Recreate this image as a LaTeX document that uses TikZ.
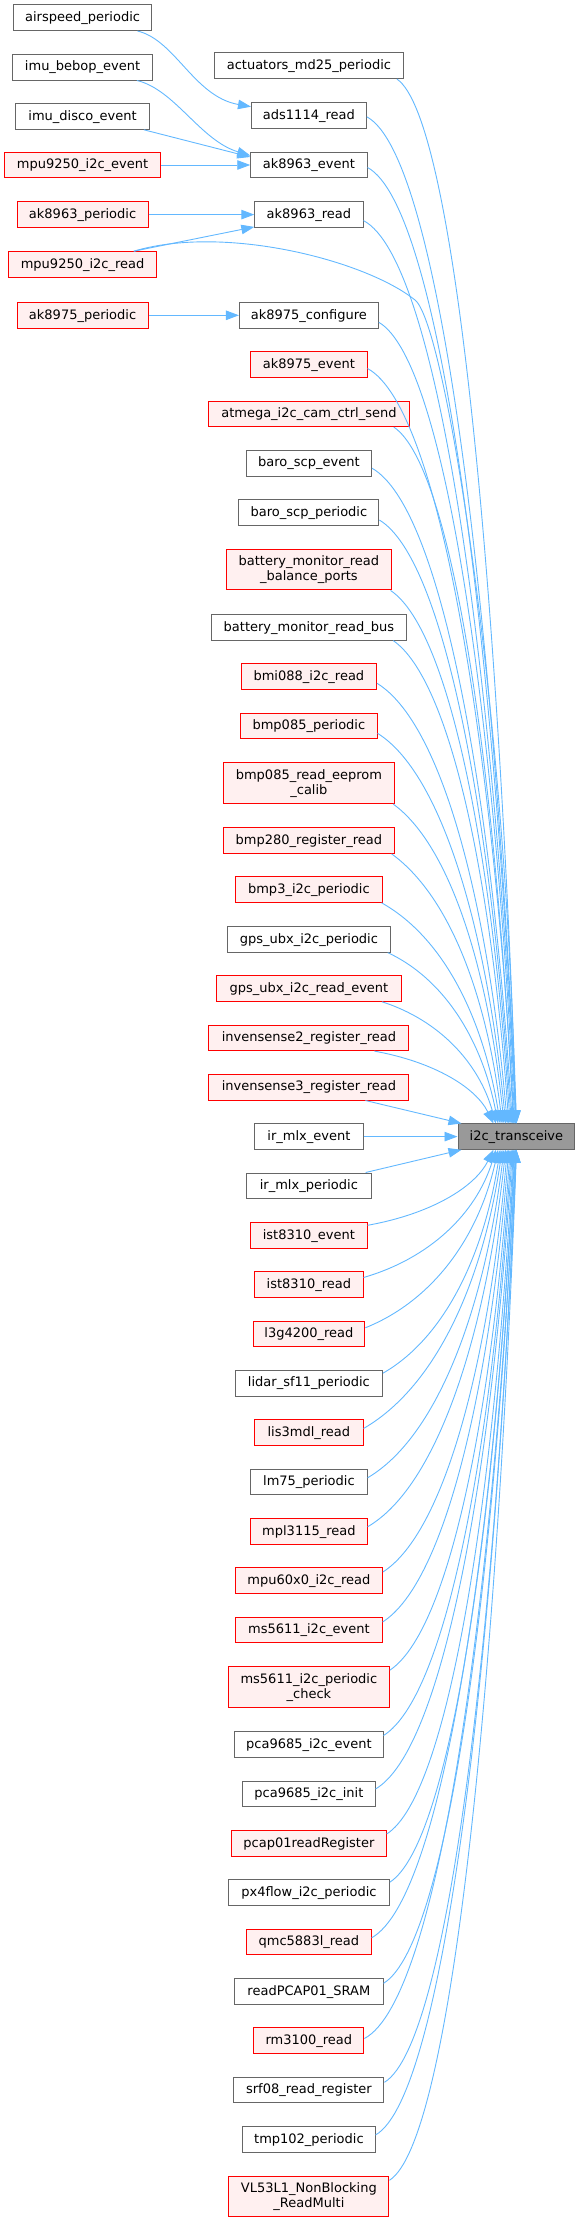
\documentclass[tikz,border=0pt]{standalone}
\usepackage{fontspec}
\setmainfont{DejaVu Sans}
\usetikzlibrary{arrows.meta,calc}
\definecolor{edgeblue}{HTML}{63B8FF}
\definecolor{boxgray}{HTML}{666666}
\definecolor{redfill}{HTML}{FFF0F0}
\definecolor{mainfill}{HTML}{999999}
\tikzset{
  nodebox/.style={draw, line width=1pt, inner sep=0pt, minimum height=25.6pt, font=\fontsize{13}{15}\selectfont, text=black},
  oneline/.style={text height=10pt, text depth=2.6pt},
  twoline/.style={align=center, minimum height=40.5pt},
  gbox/.style={nodebox, draw=boxgray, fill=white},
  rbox/.style={nodebox, draw=red, fill=redfill},
  mbox/.style={nodebox, draw=boxgray, fill=mainfill},
  calledge/.style={draw=edgeblue, line width=0.9pt, -{Triangle[length=13pt,width=9.5pt]}}
}
\newcommand\upedge[2]{%
  \draw[calledge] let \p1=(#1), \p2=([xshift=#2pt]i2c.north west), \n1={\x2-\x1}, \n2={\y1-\y2} in
  (\p1) .. controls ($(\p1)+({0.5*\n1+0pt},{-min(0.15*\n2,40pt)})$) and ($(\p2)+({-0.15*\n1+0pt},{0.5*\n2+0pt})$) .. (\p2);}
\newcommand\downedge[2]{%
  \draw[calledge] let \p1=(#1), \p2=([xshift=#2pt]i2c.south west), \n1={\x2-\x1}, \n2={\y2-\y1} in
  (\p1) .. controls ($(\p1)+({0.5*\n1+0pt},{min(0.15*\n2,40pt)})$) and ($(\p2)+({-0.15*\n1+0pt},{-0.5*\n2+0pt})$) .. (\p2);}
\begin{document}
\begin{tikzpicture}[x=1pt,y=-1pt]
\useasboundingbox (0,0) rectangle (575,2222);
% left column
\node[gbox,oneline,minimum width=138.7pt] (asp) at (82.6,17.7) {airspeed\_periodic};
\node[gbox,oneline,minimum width=139.6pt] (bebop) at (82.6,67.2) {imu\_bebop\_event};
\node[gbox,oneline,minimum width=133.6pt] (disco) at (82.6,116.5) {imu\_disco\_event};
\node[rbox,oneline,minimum width=155.6pt] (mev) at (82.6,165) {mpu9250\_i2c\_event};
\node[rbox,oneline,minimum width=131pt] (ak63p) at (82.6,214.6) {ak8963\_periodic};
\node[rbox,oneline,minimum width=147.4pt] (mrd) at (82.6,264.5) {mpu9250\_i2c\_read};
\node[rbox,oneline,minimum width=131pt] (ak75p) at (82.6,315.3) {ak8975\_periodic};
% middle column
\node[gbox,oneline,minimum width=188.9pt] (act) at (308.9,65.7) {actuators\_md25\_periodic};
\node[gbox,oneline,minimum width=114.8pt] (ads) at (308.9,115.3) {ads1114\_read};
\node[gbox,oneline,minimum width=116.3pt] (akev) at (308.9,165) {ak8963\_event};
\node[gbox,oneline,minimum width=108.2pt] (akrd) at (308.9,214.6) {ak8963\_read};
\node[gbox,oneline,minimum width=138.9pt] (akcfg) at (308.9,315.3) {ak8975\_configure};
\node[rbox,oneline,minimum width=116.3pt] (ak75ev) at (308.9,364.5) {ak8975\_event};
\node[rbox,oneline,minimum width=200.8pt] (atm) at (308.9,413.8) {atmega\_i2c\_cam\_ctrl\_send};
\node[gbox,oneline,minimum width=125.2pt] (bse) at (308.9,463.2) {baro\_scp\_event};
\node[gbox,oneline,minimum width=140pt] (bsp) at (308.9,512.5) {baro\_scp\_periodic};
\node[rbox,twoline,minimum width=164.3pt] (bbal) at (308.9,569.7) {battery\_monitor\_read\\\_balance\_ports};
\node[gbox,oneline,minimum width=195.7pt] (bbus) at (308.9,627.3) {battery\_monitor\_read\_bus};
\node[rbox,oneline,minimum width=135.3pt] (bmi) at (308.9,676.3) {bmi088\_i2c\_read};
\node[rbox,oneline,minimum width=136.3pt] (b085p) at (308.9,725.8) {bmp085\_periodic};
\node[rbox,twoline,minimum width=170.3pt] (b085e) at (308.9,783.2) {bmp085\_read\_eeprom\\\_calib};
\node[rbox,oneline,minimum width=170.3pt] (b280) at (308.9,840.5) {bmp280\_register\_read};
\node[rbox,oneline,minimum width=146.3pt] (bmp3) at (308.9,889.5) {bmp3\_i2c\_periodic};
\node[gbox,oneline,minimum width=163.4pt] (gpsp) at (308.9,939.3) {gps\_ubx\_i2c\_periodic};
\node[rbox,oneline,minimum width=184.3pt] (gpsr) at (308.9,988.5) {gps\_ubx\_i2c\_read\_event};
\node[rbox,oneline,minimum width=200pt] (inv2) at (308.9,1037.8) {invensense2\_register\_read};
\node[rbox,oneline,minimum width=200pt] (inv3) at (308.9,1087.2) {invensense3\_register\_read};
\node[gbox,oneline,minimum width=108.2pt] (irme) at (308.9,1136.6) {ir\_mlx\_event};
\node[gbox,oneline,minimum width=124.4pt] (irmp) at (308.9,1185.8) {ir\_mlx\_periodic};
\node[rbox,oneline,minimum width=116.3pt] (iste) at (308.9,1235.3) {ist8310\_event};
\node[rbox,oneline,minimum width=108.2pt] (istr) at (308.9,1284.5) {ist8310\_read};
\node[rbox,oneline,minimum width=111.8pt] (l3g) at (308.9,1333.8) {l3g4200\_read};
\node[gbox,oneline,minimum width=147pt] (lidar) at (308.9,1383.2) {lidar\_sf11\_periodic};
\node[rbox,oneline,minimum width=108.2pt] (lis) at (308.9,1432.5) {lis3mdl\_read};
\node[gbox,oneline,minimum width=116.3pt] (lm75) at (308.9,1481.8) {lm75\_periodic};
\node[rbox,oneline,minimum width=116.3pt] (mpl) at (308.9,1531.3) {mpl3115\_read};
\node[rbox,oneline,minimum width=147pt] (m60) at (308.9,1580.5) {mpu60x0\_i2c\_read};
\node[rbox,oneline,minimum width=146.3pt] (msev) at (308.9,1630) {ms5611\_i2c\_event};
\node[rbox,twoline,minimum width=160.8pt] (mspc) at (308.9,1687.2) {ms5611\_i2c\_periodic\\\_check};
\node[gbox,oneline,minimum width=148.2pt] (pcaev) at (308.9,1744.5) {pca9685\_i2c\_event};
\node[gbox,oneline,minimum width=132.2pt] (pcain) at (308.9,1794) {pca9685\_i2c\_init};
\node[rbox,oneline,minimum width=154.5pt] (pcap) at (308.9,1843.5) {pcap01readRegister};
\node[gbox,oneline,minimum width=160.8pt] (px4) at (308.9,1892.7) {px4flow\_i2c\_periodic};
\node[rbox,oneline,minimum width=124.4pt] (qmc) at (308.9,1941.8) {qmc5883l\_read};
\node[gbox,oneline,minimum width=148.2pt] (rpc) at (308.9,1991.3) {readPCAP01\_SRAM};
\node[rbox,oneline,minimum width=110pt] (rm) at (308.9,2040.5) {rm3100\_read};
\node[gbox,oneline,minimum width=150pt] (srf) at (308.9,2090) {srf08\_read\_register};
\node[gbox,oneline,minimum width=132.2pt] (tmp) at (308.9,2139.3) {tmp102\_periodic};
\node[rbox,twoline,minimum width=160pt] (vl) at (308.9,2196.3) {VL53L1\_NonBlocking\\\_ReadMulti};
% target
\node[mbox,oneline,minimum width=116.8pt,minimum height=25.3pt] (i2c) at (516.4,1136.6) {i2c\_transceive};
% left edges
\draw[calledge] ([xshift=-15pt]asp.south east) .. controls +(38,9) and +(-57,-10) .. ([yshift=8.6pt]ads.west);
\draw[calledge] ([xshift=-16pt]bebop.south east) .. controls +(38,9) and +(-50,-15) .. ([yshift=9.5pt]akev.west);
\draw[calledge] ([xshift=-6pt]disco.south east) -- ([yshift=8pt]akev.west);
\draw[calledge] (mev.east) -- (akev.west);
\draw[calledge] (ak63p.east) -- (akrd.west);
\draw[calledge] ([xshift=-23pt]mrd.north east) -- ([yshift=1pt]akrd.south west);
\draw[calledge] (ak75p.east) -- (akcfg.west);
\draw[calledge] ([xshift=-23pt]mrd.north east) .. controls +(90,-27) and +(-50,-40) .. (415,300) .. controls +(31,24) and +(-8,-400) .. ([xshift=58pt]i2c.north west);
% upper edges
\upedge{[xshift=-7pt]act.south east}{59}
\upedge{[yshift=-1.5pt]ads.east}{58.9}
\upedge{[yshift=-2.5pt]akev.east}{58.75}
\upedge{[yshift=-6pt]akrd.east}{58.4}
\upedge{[yshift=-7pt]akcfg.east}{57.4}
\upedge{[yshift=-4pt]ak75ev.east}{56.7}
\upedge{[xshift=-16pt]atm.south east}{55.9}
\upedge{[yshift=-5pt]bse.east}{54.9}
\upedge{[yshift=-7.5pt]bsp.east}{53.8}
\upedge{[xshift=-1pt]bbal.south east}{52.6}
\upedge{[xshift=-14pt]bbus.south east}{51.3}
\upedge{[yshift=-7pt]bmi.east}{49.8}
\upedge{[yshift=-7.5pt]b085p.east}{48.2}
\upedge{[xshift=-1.5pt]b085e.south east}{46.5}
\upedge{[xshift=-3pt]b280.south east}{44.7}
\upedge{[xshift=-1pt]bmp3.south east}{42.7}
\upedge{[xshift=-3.4pt]gpsp.south east}{40.6}
\upedge{[xshift=-19.5pt]gpsr.south east}{38.4}
\upedge{[xshift=-35pt]inv2.south east}{36}
\draw[calledge] ([xshift=-44pt]inv3.south east) -- ([xshift=4pt]i2c.north west);
\draw[calledge] (irme.east) -- (i2c.west);
\draw[calledge] ([xshift=-6pt]irmp.north east) -- ([xshift=4pt]i2c.south west);
% lower edges
\downedge{[yshift=10pt]iste.east}{36}
\downedge{[yshift=7pt]istr.east}{38.4}
\downedge{[yshift=6pt]l3g.east}{40.6}
\downedge{[yshift=10pt]lidar.east}{42.7}
\downedge{[yshift=4pt]lis.east}{44.7}
\downedge{[yshift=4pt]lm75.east}{46.5}
\downedge{[yshift=4.5pt]mpl.east}{48.2}
\downedge{[yshift=8.5pt]m60.east}{49.8}
\downedge{[yshift=8pt]msev.east}{51.3}
\downedge{[yshift=17pt]mspc.east}{52.6}
\downedge{[yshift=9pt]pcaev.east}{53.8}
\downedge{[yshift=5pt]pcain.east}{54.9}
\downedge{[yshift=9.5pt]pcap.east}{55.9}
\downedge{[yshift=10.5pt]px4.east}{56.7}
\downedge{[yshift=4pt]qmc.east}{57.4}
\downedge{[yshift=8pt]rpc.east}{58}
\downedge{[yshift=2pt]rm.east}{58.4}
\downedge{[yshift=7.7pt]srf.east}{58.75}
\downedge{[yshift=4.3pt]tmp.east}{58.9}
\downedge{[yshift=16pt]vl.east}{59}
\end{tikzpicture}
\end{document}
